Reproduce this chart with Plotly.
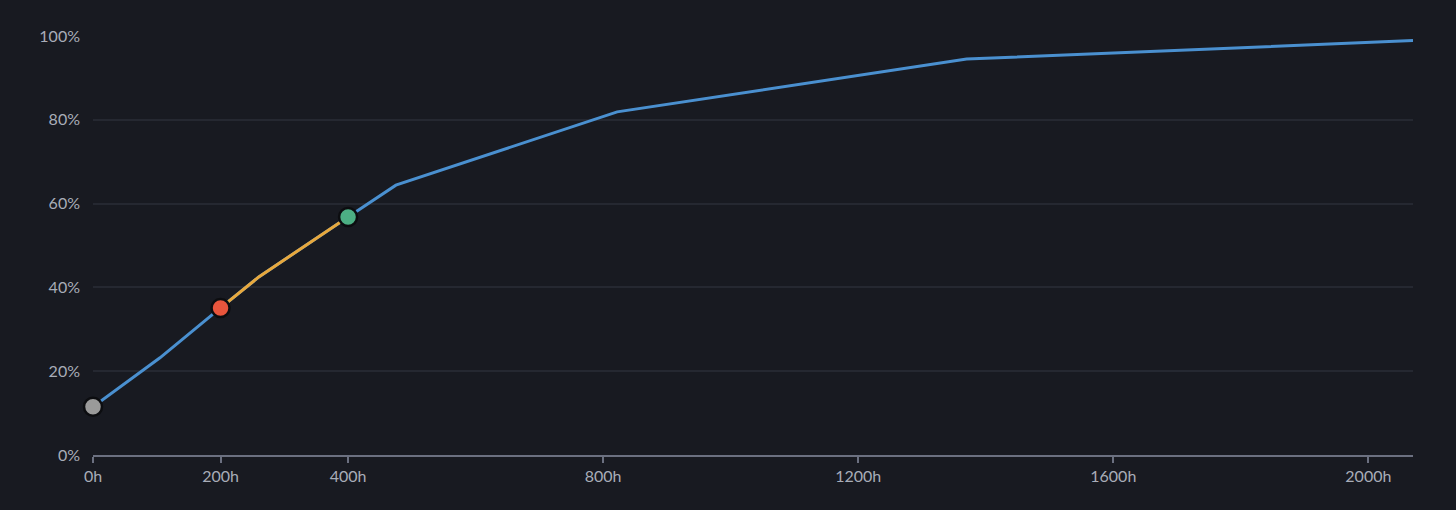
"""
Courbe cumulée (heures -> pourcentage)
"""
from plotly.graph_objects import Scatter, Figure

# données
heures = [0, 105, 200, 260, 400, 475, 822, 1370, 2070]
pourcents = [11.5, 23.2, 35.1, 42.5, 56.8, 64.4, 81.9, 94.5, 98.9]

# segment mis en évidence (200h -> 400h)
heures_segment = [200, 260, 400]
pourcents_segment = [35.1, 42.5, 56.8]

# points marqués
heures_points = [0, 200, 400]
pourcents_points = [11.5, 35.1, 56.8]
couleurs_points = ["#9a9a9a", "#e8553c", "#4caf84"]

ticks_x = [0, 200, 400, 800, 1200, 1600, 2000]
labels_x = [str(t) + "h" for t in ticks_x]
ticks_y = [0, 20, 40, 60, 80, 100]
labels_y = [str(t) + "%" for t in ticks_y]

fond = "#181a21"

fig = Figure()
fig.add_trace(Scatter(x=heures, y=pourcents, mode="lines",
                      line=dict(color="#4a90d0", width=3), hoverinfo="skip"))
fig.add_trace(Scatter(x=heures_segment, y=pourcents_segment, mode="lines",
                      line=dict(color="#e8a83c", width=3), hoverinfo="skip"))
fig.add_trace(Scatter(x=heures_points, y=pourcents_points, mode="markers",
                      cliponaxis=False,
                      marker=dict(size=18, color=couleurs_points,
                                  line=dict(color="#0c0d10", width=2.5))))

fig.update_layout(
    width=1456, height=510,
    paper_bgcolor=fond, plot_bgcolor=fond,
    margin=dict(l=93, r=43, t=36, b=55),
    showlegend=False,
    font=dict(family="Lato", size=16, color="#a8adb8"),
    xaxis=dict(range=[0, 2070], tickvals=ticks_x, ticktext=labels_x,
               showgrid=False, zeroline=False, showline=True,
               linecolor="#6b7080", linewidth=2, ticks="outside",
               tickcolor="#6b7080", ticklen=6, tickwidth=1.5),
    yaxis=dict(range=[0, 100], tickvals=ticks_y, ticktext=labels_y,
               showgrid=True, gridcolor="#252831", gridwidth=1.5,
               zeroline=False, showline=False, ticks="", ticklabelstandoff=12),
)

# pas de marge blanche autour du graphique
fig.write_html("out.html", config={"displayModeBar": False},
               post_script="document.body.style.margin='0';"
                           "document.body.style.background='" + fond + "';")
